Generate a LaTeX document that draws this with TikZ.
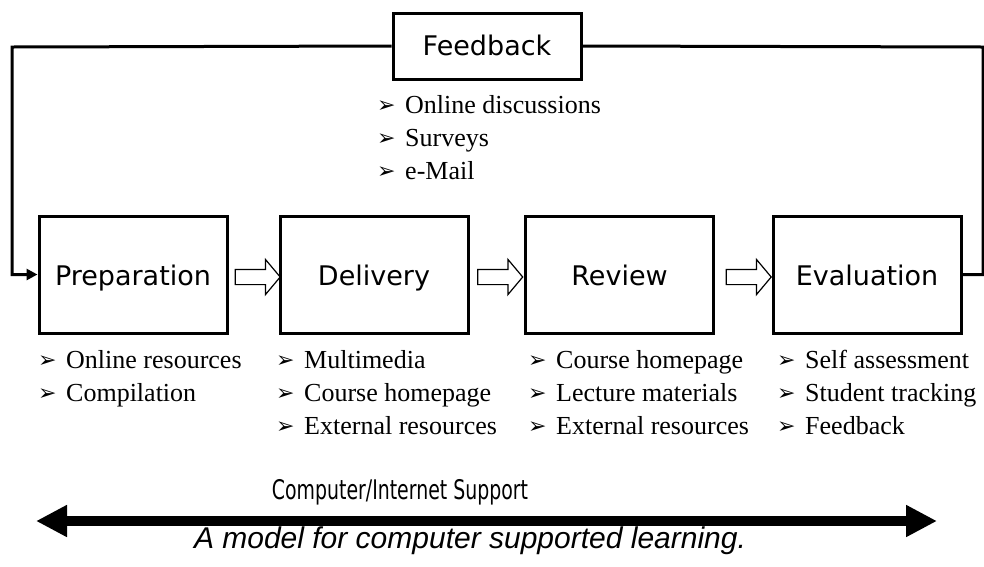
\documentclass[tikz,border=0pt]{standalone}
\usepackage{fontspec}
\setmainfont{Liberation Serif}
\newfontfamily\comic{DejaVu Sans}
\newfontfamily\capfont{Liberation Sans}
\newfontfamily\dingfont{DejaVu Sans}
\usetikzlibrary{arrows.meta,shapes.arrows}
\newcommand{\bul}{\makebox[28pt][l]{\raisebox{1pt}{\dingfont\fontsize{22}{22}\selectfont ➢}}}
\tikzset{
  stage/.style={draw, line width=3pt, minimum width=188pt, minimum height=117pt, inner sep=0pt,
    text height=25pt, text depth=4pt, font={\comic\fontsize{27}{30}\selectfont}},
  fbbox/.style={draw, line width=3pt, minimum width=188pt, minimum height=66pt, inner sep=0pt,
    text height=22pt, text depth=4pt, font={\comic\fontsize{27}{30}\selectfont}},
  item/.style={anchor=base west, inner sep=0pt, font={\fontsize{26}{30}\selectfont}},
  hollow/.style={single arrow, draw, line width=1.2pt, inner sep=0pt, minimum height=45pt,
    single arrow head extend=10pt, single arrow tip angle=100},
  conn/.style={line width=3pt},
}
\begin{document}
\begin{tikzpicture}[x=1pt,y=-1pt]
\useasboundingbox (0,0) rectangle (984,566);
% boxes
\node[fbbox] (fb) at (487,46) {Feedback};
\node[stage] (P) at (133,274.5) {Preparation};
\node[stage] (D) at (374,274.5) {Delivery};
\node[stage] (R) at (619.5,274.5) {Review};
\node[stage] (E) at (867,274.5) {Evaluation};
% feedback loop
\coordinate (tl) at (12,47);
\coordinate (tr) at (983,47);
\draw[conn, -{Triangle[length=11pt,width=11pt]}] (fb.west) -- (tl) |- (P.west);
\draw[conn] (E.east) -| (tr) -- (fb.east);
% hollow arrows
\node[hollow] (a1) at (254.5,277) {\rule{0pt}{14pt}};
\node[hollow] (a2) at (497,277) {\rule{0pt}{14pt}};
\node[hollow] (a3) at (745.5,277) {\rule{0pt}{14pt}};
% lists
\node[item] (f1) at (377,113) {\bul Online discussions};
\node[item] (f2) at (377,146) {\bul Surveys};
\node[item] (f3) at (377,179) {\bul e-Mail};
\node[item] (p1) at (38,368) {\bul Online resources};
\node[item] (p2) at (38,401) {\bul Compilation};
\node[item] (d1) at (276,368) {\bul Multimedia};
\node[item] (d2) at (276,401) {\bul Course homepage};
\node[item] (d3) at (276,434) {\bul External resources};
\node[item] (r1) at (528,368) {\bul Course homepage};
\node[item] (r2) at (528,401) {\bul Lecture materials};
\node[item] (r3) at (528,434) {\bul External resources};
\node[item] (e1) at (777,368) {\bul Self assessment};
\node[item] (e2) at (777,401) {\bul Student tracking};
\node[item] (e3) at (777,434) {\bul Feedback};
% support arrow
\coordinate (sl) at (36,521);
\coordinate (sr) at (937,521);
\draw[line width=10pt, {Triangle[length=31pt,width=30pt]}-{Triangle[length=31pt,width=30pt]}] (sl) -- (sr);
\node[inner sep=0pt, font={\comic\fontsize{27}{30}\selectfont}] (sup) at (400,492) {\scalebox{0.7}[1]{Computer/Internet Support}};
\node[inner sep=0pt, font={\capfont\itshape\fontsize{30}{34}\selectfont}] (cap) at (470,541) {A model for computer supported learning.};
\end{tikzpicture}
\end{document}
